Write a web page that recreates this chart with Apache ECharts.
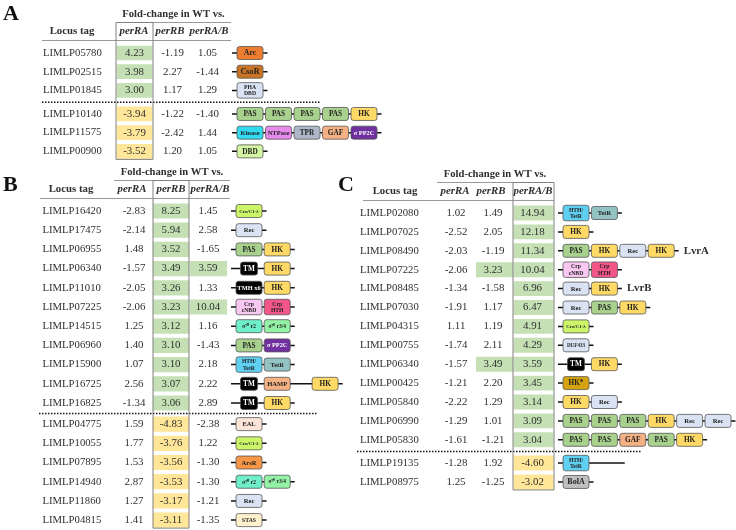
<!DOCTYPE html>
<html><head><meta charset="utf-8">
<script src="https://cdn.jsdelivr.net/npm/echarts@6/dist/echarts.min.js"></script>
<style>html,body{margin:0;padding:0;background:#fff}#c{width:736px;height:530px}</style>
</head><body><div id="c"></div>
<script>
// ---------------- DATA ----------------
const tagsA = ['LIMLP05780','LIMLP02515','LIMLP01845','LIMLP10140','LIMLP11575','LIMLP00900'];
const perRA_A = [4.23, 3.98, 3.00, -3.94, -3.79, -3.52];
const perRB_A = [-1.19, 2.27, 1.17, -1.22, -2.42, 1.20];
const perRAB_A = [1.05, -1.44, 1.29, -1.40, 1.44, 1.05];
const domainsA = [['Arc'],['CsoR'],['PHA\nDBD'],['PAS','PAS','PAS','PAS','HK'],['Kinase','NTPase','TPR','GAF','σ PP2C'],['DBD']];
const labelsA = ['','','','','',''];

const tagsB = ['LIMLP16420','LIMLP17475','LIMLP06955','LIMLP06340','LIMLP11010','LIMLP07225','LIMLP14515','LIMLP06960','LIMLP15900','LIMLP16725','LIMLP16825','LIMLP04775','LIMLP10055','LIMLP07895','LIMLP14940','LIMLP11860','LIMLP04815'];
const perRA_B = [-2.83, -2.14, 1.48, -1.57, -2.05, -2.06, 1.25, 1.40, 1.07, 2.56, -1.34, 1.59, 1.77, 1.53, 2.87, 1.27, 1.41];
const perRB_B = [8.25, 5.94, 3.52, 3.49, 3.26, 3.23, 3.12, 3.10, 3.10, 3.07, 3.06, -4.83, -3.76, -3.56, -3.53, -3.17, -3.11];
const perRAB_B = [1.45, 2.58, -1.65, 3.59, 1.33, 10.04, 1.16, -1.43, 2.18, 2.22, 2.89, -2.38, 1.22, -1.30, -1.30, -1.21, -1.35];
const domainsB = [['Cro/C1-λ'],['Rec'],['PAS','HK'],['TM','HK'],['TMH x6','HK'],['Crp\ncNBD','Crp\nHTH'],['σ⁷⁰ r2','σ⁷⁰ r3/4'],['PAS','σ PP2C'],['HTH/\nTetR','TetR'],['TM','HAMP',0.7,'HK'],['TM','HK'],['EAL'],['Cro/C1-λ'],['ArsR'],['σ⁷⁰ r2','σ⁷⁰ r3/4'],['Rec'],['STAS']];
const labelsB = tagsB.map(() => '');

const tagsC = ['LIMLP02080','LIMLP07025','LIMLP08490','LIMLP07225','LIMLP08485','LIMLP07030','LIMLP04315','LIMLP00755','LIMLP06340','LIMLP00425','LIMLP05840','LIMLP06990','LIMLP05830','LIMLP19135','LIMLP08975'];
const perRA_C = [1.02, -2.52, -2.03, -2.06, -1.34, -1.91, 1.11, -1.74, -1.57, -1.21, -2.22, -1.29, -1.61, -1.28, 1.25];
const perRB_C = [1.49, 2.05, -1.19, 3.23, -1.58, 1.17, 1.19, 2.11, 3.49, 2.20, 1.29, 1.01, -1.21, 1.92, -1.25];
const perRAB_C = [14.94, 12.18, 11.34, 10.04, 6.96, 6.47, 4.91, 4.29, 3.59, 3.45, 3.14, 3.09, 3.04, -4.60, -3.02];
const domainsC = [['HTH/\nTetR','TetR'],['HK'],['PAS','HK','Rec','HK'],['Crp\ncNBD','Crp\nHTH'],['Rec','HK'],['Rec','PAS','HK'],['Cro/C1-λ'],['DUF433'],['TM','HK'],['HK*'],['HK','Rec'],['PAS','PAS','PAS','HK','Rec','Rec'],['PAS','PAS','GAF','PAS','HK'],['HTH/\nTetR',1.1],['BolA']];
const labelsC = ['','','LvrA','','LvrB','','','','','','','','','',''];

const colHeaders = ['perRA','perRB','perRA/B'];
const foldTitle = 'Fold-change in WT vs.';
const locusTitle = 'Locus tag';

// ---------------- STYLE ----------------
const SERIF = '"Liberation Serif","Times New Roman",serif';
const TXT = '#2e2e2e';
const GREEN = '#C5E0B4', YELLOW = '#FFE699';
const DS = {
  'Arc': {fill:'#ED7D31', fs:7.8},
  'CsoR': {fill:'#C87424', fs:8.2},
  'PHA\nDBD': {fill:'#DAE3F3', fs:5.7},
  'PAS': {fill:'#A9D18E'},
  'HK': {fill:'#FFD966'},
  'Kinase': {fill:'#33D9EE', fs:6.5},
  'NTPase': {fill:'#E68AEC', fs:6.5},
  'TPR': {fill:'#ADB9CA'},
  'GAF': {fill:'#F4B183'},
  'σ PP2C': {fill:'#7030A0', color:'#fff', fs:6.3},
  'DBD': {fill:'#D4F5A2'},
  'Cro/C1-λ': {fill:'#CCF56A', fs:4.9},
  'Rec': {fill:'#DAE3F3', fs:6.6},
  'TM': {fill:'#000', color:'#fff', w:17},
  'TMH x6': {fill:'#000', color:'#fff', fs:6.4},
  'Crp\ncNBD': {fill:'#F9C8F2', fs:5.7},
  'Crp\nHTH': {fill:'#F3578A', fs:5.7},
  'σ⁷⁰ r2': {fill:'#6EEFC9', fs:5.9},
  'σ⁷⁰ r3/4': {fill:'#93F2A6', fs:5.5},
  'HTH/\nTetR': {fill:'#5FD0F2', fs:5.7},
  'TetR': {fill:'#93C3C3', fs:6.4},
  'HAMP': {fill:'#F4B183', fs:6.6},
  'EAL': {fill:'#FCE4D6', fs:6.4},
  'ArsR': {fill:'#F79646', fs:6.6},
  'STAS': {fill:'#FFF2CC', fs:5.7},
  'DUF433': {fill:'#DAE3F3', fs:5.1},
  'HK*': {fill:'#D4A30E'},
  'BolA': {fill:'#BFBFBF', fs:8}
};

const panels = [
  {letter:'A', letterX:3, letterY:14, tags:tagsA, vals:[perRA_A, perRB_A, perRAB_A], doms:domainsA, labels:labelsA,
   nUp:3, y0:53, rowH:18.7, gap:0.26, tagX:43, locusX:72,
   cellX:[134.5,172.5,209], cellW:[36,37,37], valX:[134.5,172.5,207.5], headX:[134,170,209],
   focus:0, box:[116,153], fold:[116,231], head:[42,231], dotted:[42,320], domX:232, step:28.5},
  {letter:'B', letterX:3, letterY:185, tags:tagsB, vals:[perRA_B, perRB_B, perRAB_B], doms:domainsB, labels:labelsB,
   nUp:11, y0:211, rowH:19.2, gap:0.1, tagX:42.5, locusX:71,
   cellX:[134,171,208.5], cellW:[36,36,37], valX:[134,171,208], headX:[132,171,210],
   focus:1, box:[153,189], fold:[114,230], head:[40,230], dotted:[39,317], domX:231, step:28.2},
  {letter:'C', letterX:338, letterY:185, tags:tagsC, vals:[perRA_C, perRB_C, perRAB_C], doms:domainsC, labels:labelsC,
   nUp:13, y0:213, rowH:18.9, gap:0.23, tagX:360, locusX:395,
   cellX:[456.5,494.5,533.5], cellW:[37,37,40], valX:[456,493,532.5], headX:[455,491,533],
   focus:2, box:[513,554], fold:[437,553], head:[363,554], dotted:[357,642], domX:558, step:28.4}
];

function fmt(v){ return v.toFixed(2); }

function rowRender(P){
  return function(params, api){
    const i = params.dataIndex;
    const yv = api.value(1);
    const cy = api.coord([0, yv])[1];
    const X = x => api.coord([x, yv])[0];
    const ch = [];
    const cellH = P.rowH - 4;
    ch.push({type:'text', style:{text:P.tags[i], x:X(P.tagX), y:cy, align:'left', verticalAlign:'middle',
      fontFamily:SERIF, fontSize:10.7, fill:TXT}});
    for (let k = 0; k < 3; k++){
      const v = P.vals[k][i];
      if (Math.abs(v) >= 3){
        const x0 = X(P.cellX[k] - P.cellW[k]/2), x1 = X(P.cellX[k] + P.cellW[k]/2);
        ch.push({type:'rect', shape:{x:x0, y:cy - cellH/2, width:x1 - x0, height:cellH},
          style:{fill: v > 0 ? GREEN : YELLOW}});
      }
      ch.push({type:'text', style:{text:fmt(v), x:X(P.valX[k]), y:cy, align:'center', verticalAlign:'middle',
        fontFamily:SERIF, fontSize:10.9, fill:TXT}});
    }
    const doms = P.doms[i];
    const bw = 26;
    let cur = X(P.domX + 5);
    const step = api.size([P.step, 0])[0];
    const boxes = [];
    let lastEnd = cur;
    doms.forEach(d => {
      if (typeof d === 'number'){ cur += d * step; lastEnd = cur - step + bw; return; }
      const s = DS[d] || {fill:'#ddd'};
      const w = s.w || bw;
      const two = d.indexOf('\n') >= 0;
      const h = two ? 15.5 : 13;
      const bx = cur + (bw - w)/2;
      boxes.push({type:'rect', shape:{x:bx, y:cy - h/2, width:w, height:h, r:2.5},
        style:{fill:s.fill, stroke:'#555', lineWidth:0.8}});
      boxes.push({type:'text', style:{text:d, x:cur + bw/2, y:cy + 0.3, align:'center', verticalAlign:'middle',
        fontFamily:SERIF, fontWeight:'bold', fontSize:s.fs || 7.3, lineHeight:(s.fs||7.3) + 0.8, fill:s.color || '#222'}});
      lastEnd = cur + bw;
      cur += step;
    });
    const lineStart = X(P.domX);
    const lineEnd = lastEnd + 4.5;
    ch.push({type:'line', shape:{x1:lineStart, y1:cy, x2:lineEnd, y2:cy}, style:{stroke:'#111', lineWidth:1.5}});
    ch.push.apply(ch, boxes);
    if (P.labels[i]){
      ch.push({type:'text', style:{text:P.labels[i], x:lineEnd + 5, y:cy, align:'left', verticalAlign:'middle',
        fontFamily:SERIF, fontWeight:'bold', fontSize:10.8, fill:TXT}});
    }
    return {type:'group', children:ch};
  };
}

function frameRender(P){
  return function(params, api){
    const n = P.tags.length;
    const Y = v => api.coord([0, v])[1];
    const X = x => api.coord([x, 0])[0];
    const y0 = Y(0);
    const yLast = Y(n - 1 + P.gap);
    const yDiv = (Y(P.nUp - 1) + Y(P.nUp + P.gap)) / 2;
    const ch = [];
    const foldY = y0 - 30.5;
    const headY = y0 - 12.5;
    ch.push({type:'rect', shape:{x:X(P.box[0]), y:foldY, width:X(P.box[1]) - X(P.box[0]), height:yLast + 8 - foldY},
      style:{fill:'none', stroke:'#808080', lineWidth:1}, z2:5});
    ch.push({type:'line', shape:{x1:X(P.fold[0]), y1:foldY, x2:X(P.fold[1]), y2:foldY}, style:{stroke:'#9a9a9a', lineWidth:1}});
    ch.push({type:'line', shape:{x1:X(P.head[0]), y1:headY, x2:X(P.head[1]), y2:headY}, style:{stroke:'#9a9a9a', lineWidth:1}});
    ch.push({type:'line', shape:{x1:X(P.dotted[0]), y1:yDiv, x2:X(P.dotted[1]), y2:yDiv},
      style:{stroke:'#111', lineWidth:1.5, lineDash:[1.5,1.5]}});
    ch.push({type:'text', style:{text:foldTitle, x:(X(P.fold[0]) + X(P.fold[1]))/2, y:y0 - 38.5, align:'center', verticalAlign:'middle',
      fontFamily:SERIF, fontWeight:'bold', fontSize:10.6, fill:TXT}});
    ch.push({type:'text', style:{text:locusTitle, x:X(P.locusX), y:y0 - 21.5, align:'center', verticalAlign:'middle',
      fontFamily:SERIF, fontWeight:'bold', fontSize:10.8, fill:TXT}});
    colHeaders.forEach((h, k) => {
      ch.push({type:'text', style:{text:h, x:X(P.headX[k]), y:y0 - 21.5, align:'center', verticalAlign:'middle',
        fontFamily:SERIF, fontWeight:'bold', fontStyle:'italic', fontSize:10.8, fill:TXT}});
    });
    ch.push({type:'text', style:{text:P.letter, x:X(P.letterX), y:P.letterY, align:'left', verticalAlign:'middle',
      fontFamily:SERIF, fontWeight:'bold', fontSize:22, fill:'#111'}});
    return {type:'group', children:ch};
  };
}

const grids = [], xAxes = [], yAxes = [], series = [];
panels.forEach((P, gi) => {
  const n = P.tags.length;
  grids.push({left:0, width:736, top:P.y0 - 0.5 * P.rowH, height:(n + P.gap) * P.rowH});
  xAxes.push({type:'value', gridIndex:gi, min:0, max:736, show:false});
  yAxes.push({type:'value', gridIndex:gi, min:-0.5, max:n - 0.5 + P.gap, inverse:true, show:false});
  const rows = P.tags.map((t, i) => [0, i + (i >= P.nUp ? P.gap : 0)]);
  series.push({type:'custom', name:'rows' + P.letter, xAxisIndex:gi, yAxisIndex:gi, data:rows,
    renderItem:rowRender(P), encode:{x:0, y:1}, silent:true, animation:false, z:2});
  series.push({type:'custom', name:'frame' + P.letter, xAxisIndex:gi, yAxisIndex:gi, data:[[0, 0]],
    renderItem:frameRender(P), encode:{x:0, y:1}, silent:true, animation:false, z:3});
});

const chart = echarts.init(document.getElementById('c'), null, {renderer:'canvas'});
chart.setOption({
  backgroundColor:'#fff',
  animation:false,
  grid:grids, xAxis:xAxes, yAxis:yAxes, series:series
});
</script>
</body></html>
